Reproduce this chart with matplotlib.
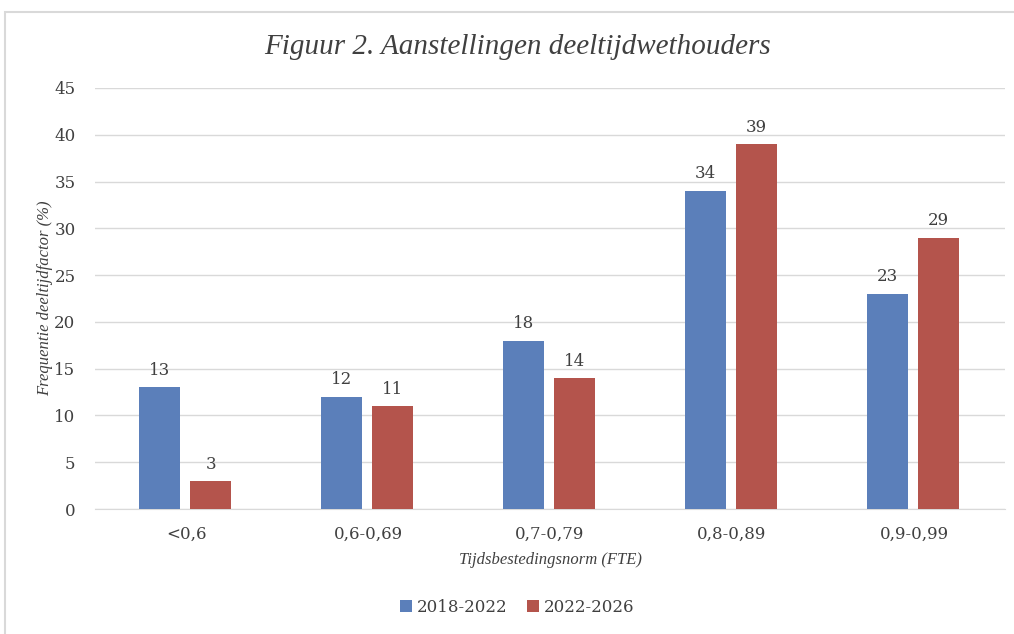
import matplotlib.pyplot as plt
import numpy as np
from matplotlib.patches import Rectangle

categories = ['<0,6', '0,6-0,69', '0,7-0,79', '0,8-0,89', '0,9-0,99']
s2018 = [13, 12, 18, 34, 23]
s2022 = [3, 11, 14, 39, 29]
labels = ['2018-2022', '2022-2026']

blue = '#5b7fba'
red = '#b4544c'
txt = '#404040'
num_font = ['DejaVu Serif']

plt.rcParams['font.family'] = ['Liberation Serif', 'DejaVu Serif']

fig = plt.figure(figsize=(10.14, 6.34), dpi=100)
ax = fig.add_axes([95 / 1014, 1 - 509 / 634, 910 / 1014, 421 / 634])

x = np.arange(len(categories))
w = 0.225
b1 = ax.bar(x - 0.145, s2018, w, color=blue, label=labels[0], zorder=3)
b2 = ax.bar(x + 0.135, s2022, w, color=red, label=labels[1], zorder=3)

for bars in (b1, b2):
    for b in bars:
        ax.text(b.get_x() + b.get_width() / 2, b.get_height() + 0.9, str(int(b.get_height())),
                ha='center', va='bottom', fontsize=12, color=txt, family=num_font)

ax.set_xlim(-0.5, 4.5)
ax.set_ylim(0, 45)
ax.set_yticks(range(0, 46, 5))
ax.set_xticks(x)
ax.set_xticklabels(categories)
ax.tick_params(length=0, labelsize=12, labelcolor=txt)
ax.tick_params(axis='x', pad=12)
ax.tick_params(axis='y', pad=14)
for lab in ax.get_xticklabels() + ax.get_yticklabels():
    lab.set_family(num_font)
ax.grid(axis='y', color='#d9d9d9', linewidth=1, zorder=0)
for s in ['top', 'right', 'left']:
    ax.spines[s].set_visible(False)
ax.spines['bottom'].set_color('#d9d9d9')

ax.set_xlabel('Tijdsbestedingsnorm (FTE)', fontsize=12, style='italic', color=txt)
ax.set_ylabel('Frequentie deeltijdfactor (%)', fontsize=12, style='italic', color=txt)
ax.xaxis.set_label_coords(0.5, (509 - 560) / 421, transform=ax.transAxes)
ax.yaxis.set_label_coords((45 - 95) / 910, 0.5, transform=ax.transAxes)
ax.xaxis.label.set_va('center')
ax.yaxis.label.set_va('center')

fig.text(0.51, 1 - 47 / 634, 'Figuur 2. Aanstellingen deeltijdwethouders', ha='center', va='center',
         fontsize=21, style='italic', color=txt)

leg = fig.legend(loc='center', bbox_to_anchor=(0.51, 1 - 607 / 634), ncol=2, frameon=False,
                 fontsize=12, handlelength=0.7, handleheight=0.7, columnspacing=1.2, handletextpad=0.3,
                 labelcolor=txt, prop={'family': num_font, 'size': 12})

fig.patches.append(Rectangle((5 / 1014, -0.1), 1.2, 1 - 12 / 634 + 0.1, transform=fig.transFigure,
                             fill=False, edgecolor='#d9d9d9', linewidth=1.5))

fig.savefig('out.png', dpi=100)
